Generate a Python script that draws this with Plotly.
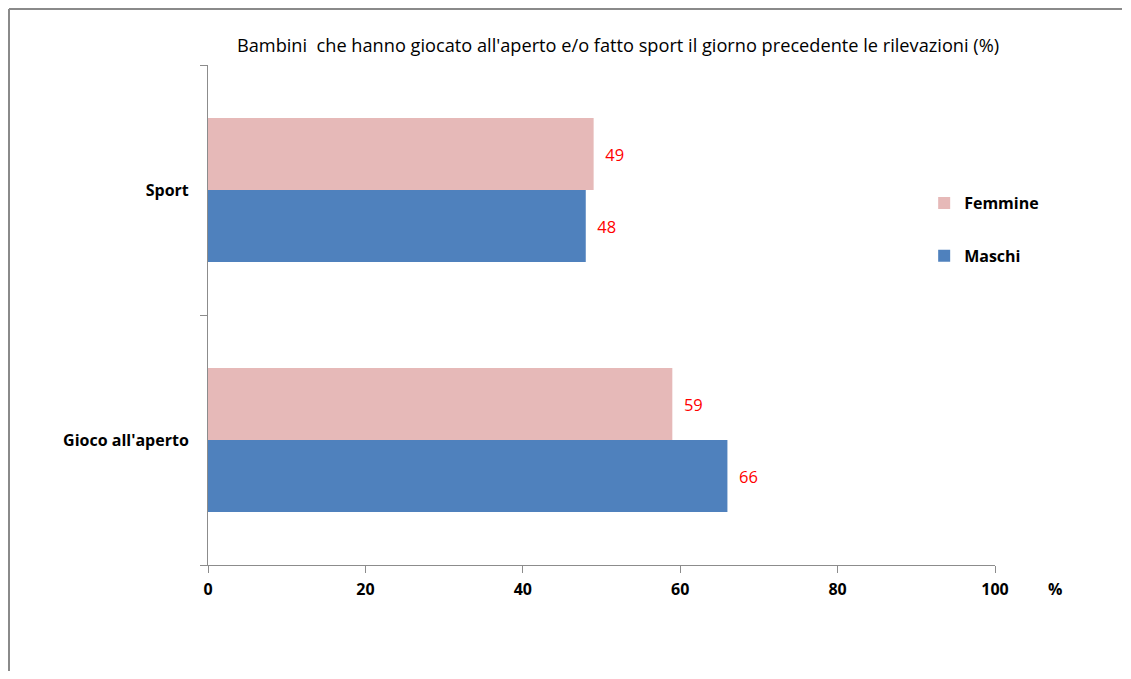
import plotly.graph_objects as go

categories = ["Gioco all'aperto", "Sport"]
maschi = [66, 48]
femmine = [59, 49]
x_ticks = [0, 20, 40, 60, 80, 100]

FONT = "Open Sans"
# page body has an 8px margin; figure is sized so the plot lands at page x 208..995, y 65..565
W, H = 1115, 663
ML, MR, MT, MB = 200, 128, 57, 106
PW = W - ML - MR
PH = H - MT - MB

fig = go.Figure()
fig.add_trace(go.Bar(
    y=categories, x=maschi, orientation="h", name="Maschi",
    marker=dict(color="#4F81BD", line=dict(width=0)),
    text=maschi, texttemplate="\u00a0\u00a0%{x}", textposition="outside",
    textfont=dict(color="#FF0000", size=16.5, family=FONT),
    cliponaxis=False, legendrank=2, legendgroup="m",
))
fig.add_trace(go.Bar(
    y=categories, x=femmine, orientation="h", name="Femmine",
    marker=dict(color="#E6B9B8", line=dict(width=0)),
    text=femmine, texttemplate="\u00a0\u00a0%{x}", textposition="outside",
    textfont=dict(color="#FF0000", size=16.5, family=FONT),
    cliponaxis=False, legendrank=1, legendgroup="f",
))

fig.update_layout(
    width=W, height=H,
    margin=dict(l=ML, r=MR, t=MT, b=MB),
    paper_bgcolor="white", plot_bgcolor="white",
    barmode="group", bargap=0.424, bargroupgap=0,
    font=dict(family=FONT, color="black"),
    title=dict(text="Bambini  che hanno giocato all'aperto e/o fatto sport il giorno precedente le rilevazioni (%)",
               x=610 / W, xanchor="center", y=1 - 38 / H, yanchor="middle",
               font=dict(size=18.2, family=FONT, color="black")),
    showlegend=True,
    legend=dict(x=0.91, y=0.758, xanchor="left", yanchor="top",
                traceorder="grouped", tracegroupgap=29, itemsizing="constant",
                font=dict(size=16, family=FONT, color="black", weight="bold"),
                bgcolor="rgba(0,0,0,0)", itemwidth=30),
    xaxis=dict(range=[0, 100], tickvals=x_ticks, showgrid=False, zeroline=False,
               showline=True, linecolor="#8C8C8C", linewidth=1,
               ticks="outside", ticklen=7, tickcolor="#8C8C8C",
               ticklabelstandoff=3,
               tickfont=dict(size=16, family=FONT, weight="bold")),
    yaxis=dict(type="category", showgrid=False, zeroline=False,
               showline=True, linecolor="#8C8C8C", linewidth=1,
               ticks="outside", ticklen=7, tickcolor="#8C8C8C", tickson="boundaries",
               ticklabelstandoff=15,
               tickfont=dict(size=16, family=FONT, weight="bold")),
)

fig.add_annotation(text="%", xref="paper", yref="paper", x=(1055 - 208) / PW, y=(565 - 589) / PH,
                   xanchor="center", yanchor="middle",
                   showarrow=False, font=dict(size=16, family=FONT, weight="bold"))

# outer chart border (top and left edges visible), kept inside the figure bounds
bx = (1 - ML) / PW
by = 1 + (MT - 1) / PH
ybot = -MB / PH
xright = (W - 1 - ML) / PW
fig.add_shape(type="line", xref="paper", yref="paper", x0=bx, x1=bx, y0=ybot, y1=by,
              line=dict(color="#8A8A8A", width=2))
fig.add_shape(type="line", xref="paper", yref="paper", x0=bx, x1=xright, y0=by, y1=by,
              line=dict(color="#8A8A8A", width=2))

fig.write_html("out.html")
